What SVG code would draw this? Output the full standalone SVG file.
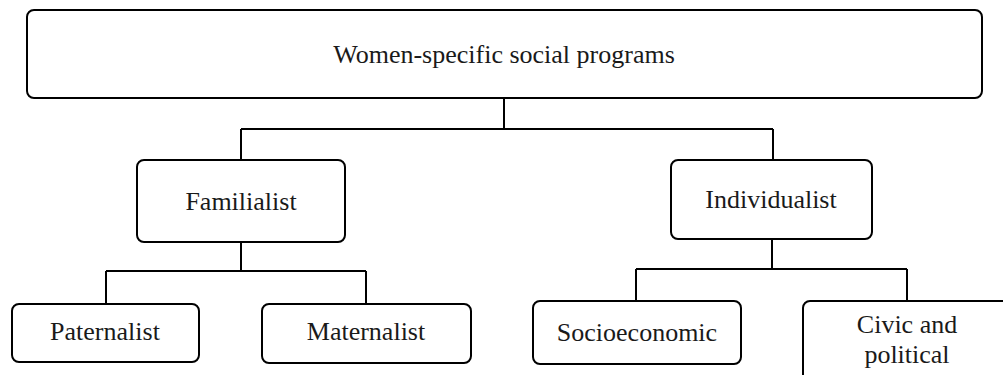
<svg xmlns="http://www.w3.org/2000/svg" width="1003" height="375" viewBox="0 0 1003 375">
<style>
.box{fill:#fff;stroke:#000;stroke-width:2}
.lbl{font-family:"Liberation Serif","Times New Roman",serif;font-size:26px;fill:#1a1a1a;text-anchor:middle}
.conn{fill:none;stroke:#000;stroke-width:2}
</style>
<rect width="1003" height="375" fill="#fff"/>
<g id="connectors">
<path class="conn" d="M504,98 V129 M241,129 H773 M241,129 V160 M773,129 V160"/>
<path class="conn" d="M241,242 V271 M106,271 H366 M106,271 V304 M366,271 V304"/>
<path class="conn" d="M772,239 V269 M636,269 H907 M636,269 V301 M907,269 V301"/>
</g>
<g id="root"><rect class="box" x="27" y="10" width="955" height="88" rx="7"/><text class="lbl" x="504" y="63">Women-specific social programs</text></g>
<g id="familialist"><rect class="box" x="137" y="160" width="208" height="82" rx="7"/><text class="lbl" x="241" y="210">Familialist</text></g>
<g id="individualist"><rect class="box" x="671" y="160" width="201" height="79" rx="7"/><text class="lbl" x="771" y="208">Individualist</text></g>
<g id="paternalist"><rect class="box" x="12" y="304" width="187" height="58" rx="7"/><text class="lbl" x="105" y="340">Paternalist</text></g>
<g id="maternalist"><rect class="box" x="262" y="304" width="209" height="59" rx="7"/><text class="lbl" x="366" y="340">Maternalist</text></g>
<g id="socioeconomic"><rect class="box" x="533" y="301" width="208" height="63" rx="7"/><text class="lbl" x="637" y="341">Socioeconomic</text></g>
<g id="civic"><rect class="box" x="803" y="301" width="210" height="90" rx="7"/><text class="lbl" x="907" y="333">Civic and</text><text class="lbl" x="907" y="363">political</text></g>
</svg>
